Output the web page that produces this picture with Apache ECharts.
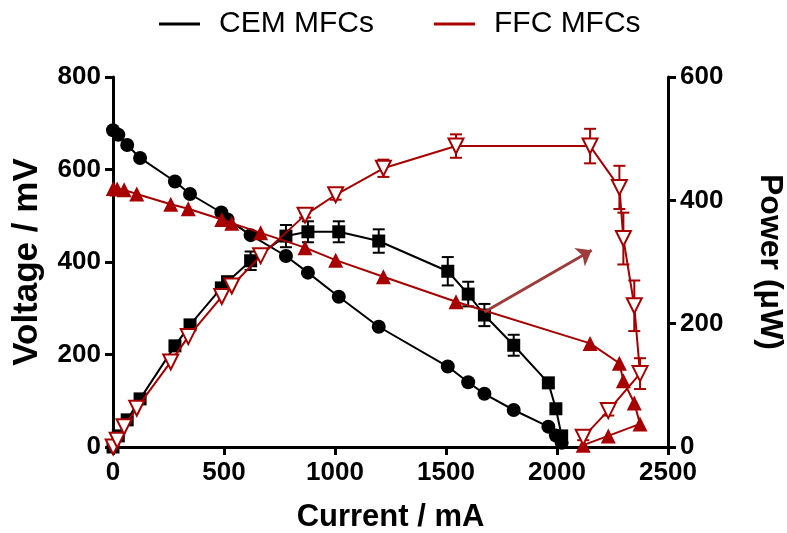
<!DOCTYPE html>
<html>
<head>
<meta charset="utf-8">
<script src="https://cdn.jsdelivr.net/npm/echarts@6/dist/echarts.min.js"></script>
<style>
html, body { margin: 0; padding: 0; background: #fff; }
#chart { width: 787px; height: 533px; }
</style>
</head>
<body>
<div id="chart"></div>
<script>
// CEM MFCs
const cemCurrent = [0, 24, 64, 122, 279, 347, 488, 516, 620, 779, 878, 1017, 1197, 1508, 1600, 1673, 1805, 1961, 1995, 2021];
const cemVoltage = [685, 675, 653, 625, 574, 547, 507, 492, 458, 413, 377, 325, 260, 174, 140, 115, 80, 44, 25, 9];
const cemPower = [0, 18, 44, 78, 164, 198, 258, 268, 302, 342, 349, 349, 334, 285, 248, 214, 165, 104, 62, 18];
const cemPowerErr = [0, 0, 0, 0, 0, 0, 8, 8, 15, 18, 17, 17, 19, 23, 20, 18, 17, 8, 5, 5];

// FFC MFCs
const ffcCurrent = [1, 19, 50, 107, 260, 339, 490, 535, 665, 865, 1003, 1218, 1545, 2149, 2281, 2299, 2348, 2374, 2231, 2118];
const ffcVoltage = [559, 558, 556, 547, 525, 515, 492, 484, 463, 431, 404, 368, 314, 224, 181, 143, 95, 50, 24, 4];
const ffcPower = [0, 11, 33, 63, 138, 179, 244, 261, 310, 376, 409, 452, 488, 488, 421, 338, 229, 119, 59, 16];
const ffcPowerErr = [0, 0, 0, 0, 0, 0, 0, 0, 0, 4, 8, 14, 19, 28, 35, 42, 41, 25, 8, 5];

// arrow annotation (current, power)
const arrowFrom = [1673, 219];
const arrowTo = [2156, 319];

const legendNames = ['CEM MFCs', 'FFC MFCs'];

const RED = '#a80000';
const FONT = 'Liberation Sans';

const pairs = (xs, ys) => xs.map((x, i) => [x, ys[i]]);
const errData = (xs, ys, es) => xs.map((x, i) => [x, ys[i] - es[i], ys[i] + es[i]]);

function errorBars(color) {
    return function (params, api) {
        const x = api.value(0);
        const lo = api.coord([x, api.value(1)]);
        const hi = api.coord([x, api.value(2)]);
        if (Math.abs(hi[1] - lo[1]) < 1) return;
        const w = 6;
        const style = { stroke: color, lineWidth: 2 };
        return {
            type: 'group',
            children: [
                { type: 'line', shape: { x1: lo[0], y1: lo[1], x2: hi[0], y2: hi[1] }, style: style },
                { type: 'line', shape: { x1: lo[0] - w, y1: lo[1], x2: lo[0] + w, y2: lo[1] }, style: style },
                { type: 'line', shape: { x1: hi[0] - w, y1: hi[1], x2: hi[0] + w, y2: hi[1] }, style: style },
            ],
        };
    };
}

const axisCommon = {
    axisLine: { show: true, lineStyle: { color: '#000', width: 3 } },
    axisTick: { show: true, inside: false, length: 8, lineStyle: { color: '#000', width: 3 } },
    axisLabel: {
        color: '#000',
        fontFamily: FONT,
        fontWeight: 'bold',
        fontSize: 26,
        formatter: (v) => String(v),
    },
    splitLine: { show: false },
    nameTextStyle: { color: '#000', fontFamily: FONT, fontWeight: 'bold', fontSize: 31 },
};

const option = {
    animation: false,
    backgroundColor: '#fff',
    legend: {
        top: 4,
        left: 154,
        itemGap: 60,
        itemWidth: 41,
        itemHeight: 3,
        textStyle: { color: '#000', fontFamily: FONT, fontSize: 30, padding: [0, 0, 0, 14] },
        data: [
            { name: legendNames[0], icon: 'rect', itemStyle: { color: '#000' } },
            { name: legendNames[1], icon: 'rect', itemStyle: { color: RED } },
        ],
    },
    grid: { left: 113, right: 119, top: 77, bottom: 86, containLabel: false, outerBoundsMode: 'none' },
    xAxis: {
        type: 'value',
        min: 0,
        max: 2500,
        interval: 500,
        name: 'Current / mA',
        nameLocation: 'middle',
        nameGap: 55,
        ...axisCommon,
        axisLabel: { ...axisCommon.axisLabel, margin: 13 },
    },
    yAxis: [
        {
            type: 'value',
            min: 0,
            max: 800,
            interval: 200,
            name: 'Voltage / mV',
            nameLocation: 'middle',
            nameGap: 68,
            ...axisCommon,
            axisLabel: { ...axisCommon.axisLabel, margin: 12 },
            nameTextStyle: { ...axisCommon.nameTextStyle, fontSize: 35 },
        },
        {
            type: 'value',
            position: 'right',
            min: 0,
            max: 600,
            interval: 200,
            name: 'Power (μW)',
            nameLocation: 'middle',
            nameRotate: -90,
            nameGap: 86,
            ...axisCommon,
            axisLabel: { ...axisCommon.axisLabel, margin: 12 },
            nameTextStyle: { ...axisCommon.nameTextStyle, fontSize: 32 },
        },
    ],
    series: [
        {
            name: legendNames[0],
            type: 'line',
            yAxisIndex: 0,
            data: pairs(cemCurrent, cemVoltage),
            symbol: 'circle',
            symbolSize: 14,
            itemStyle: { color: '#000' },
            lineStyle: { color: '#000', width: 2 },
            z: 3,
        },
        {
            name: legendNames[0],
            type: 'custom',
            yAxisIndex: 1,
            data: errData(cemCurrent, cemPower, cemPowerErr),
            renderItem: errorBars('#000'),
            z: 2,
        },
        {
            name: legendNames[0],
            type: 'line',
            yAxisIndex: 1,
            data: pairs(cemCurrent, cemPower),
            symbol: 'rect',
            symbolSize: 13,
            itemStyle: { color: '#000' },
            lineStyle: { color: '#000', width: 2 },
            z: 3,
            markLine: {
                silent: true,
                symbol: ['none', 'arrow'],
                symbolSize: [16, 14],
                label: { show: false },
                lineStyle: { color: '#9e3c3c', width: 3, type: 'solid' },
                data: [[{ coord: arrowFrom }, { coord: arrowTo }]],
            },
        },
        {
            name: legendNames[1],
            type: 'line',
            yAxisIndex: 0,
            data: pairs(ffcCurrent, ffcVoltage),
            symbol: 'triangle',
            symbolSize: 15,
            itemStyle: { color: RED },
            lineStyle: { color: RED, width: 2 },
            z: 4,
        },
        {
            name: legendNames[1],
            type: 'custom',
            yAxisIndex: 1,
            data: errData(ffcCurrent, ffcPower, ffcPowerErr),
            renderItem: errorBars(RED),
            z: 2,
        },
        {
            name: legendNames[1],
            type: 'line',
            yAxisIndex: 1,
            data: pairs(ffcCurrent, ffcPower),
            symbol: 'triangle',
            symbolRotate: 180,
            symbolSize: 15,
            showAllSymbol: true,
            itemStyle: { color: '#fff', borderColor: RED, borderWidth: 2 },
            lineStyle: { color: RED, width: 2 },
            z: 4,
        },
    ],
};

let myChart = echarts.init(document.getElementById('chart'));
myChart.setOption(option);
</script>
</body>
</html>
